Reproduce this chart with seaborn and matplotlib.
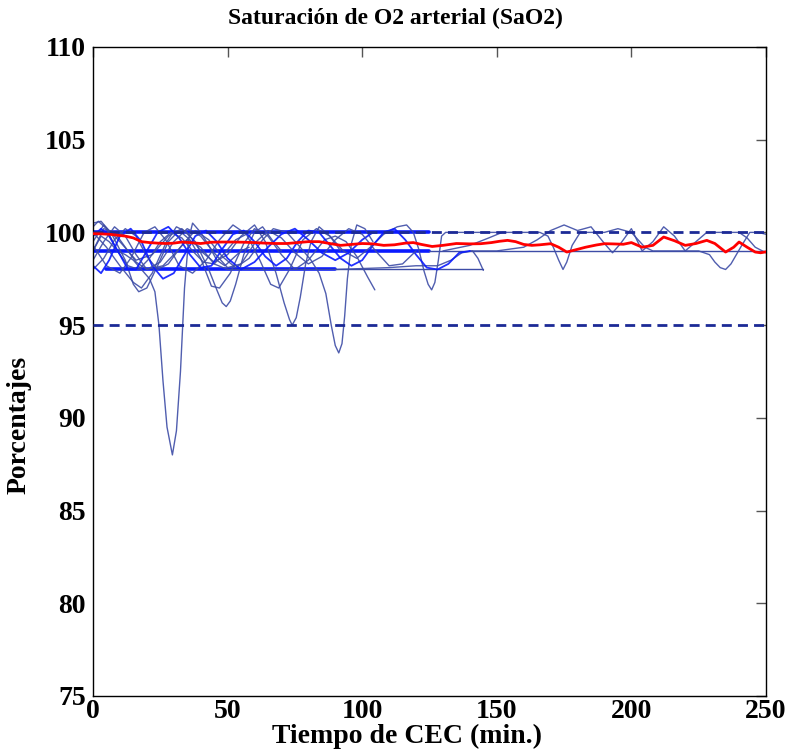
import matplotlib
matplotlib.use("Agg")
import matplotlib.pyplot as plt
import seaborn as sns
import numpy as np

# ---------------- data ----------------
title = "Saturación de O2 arterial (SaO2)"
xlabel = "Tiempo de CEC (min.)"
ylabel = "Porcentajes"
xticks = [0, 50, 100, 150, 200, 250]
yticks = [75, 80, 85, 90, 95, 100, 105, 110]
ref_levels = [95, 100]

# mean curve (red)
red_t = [0, 3, 6, 9, 12, 15, 18, 21, 24, 27, 30, 33, 36, 40, 44, 48, 52, 56, 60, 64, 68, 72,
         76, 80, 84, 88, 92, 96, 100, 104, 108, 112, 116, 119, 122, 126, 130, 135, 140, 144,
         148, 151, 154, 157, 160, 163, 166, 170, 173, 176, 179, 183, 187, 190, 193, 197, 200,
         204, 208, 212, 216, 220, 224, 228, 231, 235, 238, 240, 243, 246, 248, 250]
red_v = [99.93, 99.92, 99.9, 99.85, 99.8, 99.7, 99.5, 99.45, 99.42, 99.4, 99.42, 99.48, 99.45,
         99.4, 99.47, 99.48, 99.48, 99.47, 99.45, 99.42, 99.4, 99.4, 99.45, 99.5, 99.5, 99.4,
         99.3, 99.35, 99.4, 99.38, 99.3, 99.33, 99.42, 99.45, 99.35, 99.24, 99.3, 99.4, 99.38,
         99.39, 99.45, 99.52, 99.57, 99.5, 99.35, 99.3, 99.33, 99.39, 99.2, 98.94, 99.05, 99.2,
         99.32, 99.39, 99.38, 99.36, 99.45, 99.2, 99.3, 99.75, 99.55, 99.3, 99.4, 99.57, 99.4,
         98.94, 99.2, 99.48, 99.2, 98.94, 98.9, 98.95]

# individual patients (thin blue)
c1_t = [0, 3, 6, 9, 12, 15, 18, 21, 23, 24.5, 26, 27.5, 29.5, 31, 32.5, 34, 35.5, 37, 40, 43, 46, 49, 52, 55, 58]
c1_v = [99.0, 99.8, 99.5, 99.0, 98.8, 98.5, 98.0, 97.5, 96.8, 95.0, 92.0, 89.5, 88.0, 89.3, 92.5, 97.0, 99.6, 100.5, 100.0, 99.3, 98.5, 98.2, 98.6, 99.0, 99.2]

c2_t = [0, 4, 10, 16, 22, 28, 33, 38, 43, 46, 48, 49.5, 51, 53, 56, 60, 63, 67, 70]
c2_v = [99.5, 100.4, 99.5, 98.5, 98.8, 99.8, 100.2, 99.5, 98.0, 96.9, 96.2, 96.0, 96.3, 97.2, 98.8, 100.0, 100.3, 99.5, 99.0]

c3_t = [0, 5, 10, 15, 18, 22, 27, 31, 35, 40, 45, 50, 55, 60, 64, 68, 71, 73, 74, 75.5, 77, 79, 81, 84, 88, 92]
c3_v = [100.0, 99.2, 98.2, 97.3, 97.0, 97.8, 99.4, 100.3, 100.0, 99.0, 98.4, 98.8, 99.8, 100.4, 99.5, 97.8, 96.2, 95.3, 95.0, 95.4, 96.5, 98.3, 99.5, 100.3, 99.8, 99.0]

c4_t = [0, 4, 8, 12, 16, 20, 24, 28, 33, 38, 43, 48, 53, 58, 63, 67, 72, 77, 81, 84, 86.5, 88.5, 90, 91.3, 92.5, 93.5, 94.5, 96, 98, 101, 104]
c4_v = [98.0, 98.6, 99.6, 100.2, 99.8, 98.7, 98.0, 98.3, 99.3, 100.1, 99.6, 98.7, 98.1, 98.6, 99.6, 100.2, 100.0, 99.2, 98.5, 97.8, 96.7, 95.0, 93.9, 93.5, 94.0, 95.5, 97.5, 99.4, 100.4, 100.2, 99.5]

c5_t = [0, 3, 7, 12, 15, 17, 20, 24, 28, 32, 36, 40, 44, 47, 51, 56, 60, 65, 70, 75, 80, 86, 90, 94, 98, 102, 104.7]
c5_v = [100.5, 100.6, 99.9, 98.5, 97.2, 96.8, 97.0, 98.2, 99.5, 100.1, 99.6, 98.6, 97.1, 97.0, 97.8, 99.4, 100.2, 99.8, 98.8, 98.0, 98.5, 99.6, 99.8, 99.5, 98.7, 97.6, 96.9]

c6_t = [0, 5, 10, 14, 19, 23, 27, 32, 37, 42, 47, 52, 57, 62, 66, 69, 73, 78, 83, 88, 93, 98, 103, 108, 113, 116.5, 119, 121, 123, 124.5, 125.8, 127, 128.3, 129.5, 131, 140, 150]
c6_v = [99.3, 98.2, 97.8, 98.6, 100.0, 100.3, 99.6, 98.2, 97.8, 98.5, 99.6, 100.4, 99.9, 98.5, 97.2, 97.0, 98.0, 99.6, 100.2, 99.8, 99.0, 98.6, 99.2, 99.9, 100.3, 100.4, 100.0, 99.1, 97.9, 97.2, 96.9, 97.3, 98.5, 99.8, 100.0, 100.0, 100.0]

c7_t = [0, 4, 8, 12, 16, 20, 26, 30, 35, 40, 45, 50, 60, 70, 80, 90, 100, 110, 120, 128, 133, 137, 141, 143, 145]
c7_v = [99.0, 100.2, 100.0, 99.2, 98.4, 98.0, 98.2, 98.8, 99.6, 99.2, 98.3, 98.0, 98.0, 98.0, 98.0, 98.0, 98.05, 98.1, 98.2, 98.2, 98.5, 98.9, 99.0, 98.6, 97.95]

c8_t = [130, 140, 147, 152, 160, 166, 169, 171, 173, 174.6, 176, 178, 181, 190, 195, 200, 205, 208, 215, 225, 229, 231, 233, 235, 237, 239, 241, 244, 247, 250]
c8_v = [99.0, 99.3, 99.7, 100.0, 100.0, 100.0, 99.8, 99.2, 98.5, 98.0, 98.4, 99.3, 100.0, 100.0, 100.2, 100.0, 99.2, 99.0, 99.0, 99.0, 98.8, 98.4, 98.1, 98.0, 98.3, 98.8, 99.3, 100.0, 100.0, 99.9]

c9_t = [140, 150, 160, 165, 170, 175, 180, 185, 190, 193, 196, 200, 204, 208, 212, 216, 220, 224, 228, 232, 236, 240, 243, 246, 250]
c9_v = [99.0, 99.0, 99.2, 99.6, 100.1, 100.4, 100.1, 100.3, 99.4, 98.9, 99.4, 100.2, 99.0, 99.5, 100.3, 99.8, 99.0, 99.5, 100.0, 100.0, 100.0, 100.0, 99.7, 99.2, 98.9]

c10_t = [0, 3, 6, 10, 14, 18, 22, 26, 30, 34, 38, 42, 46, 50, 55, 60, 65, 70, 75, 80, 85, 90, 95, 100, 104]
c10_v = [98.2, 97.8, 98.5, 99.8, 100.2, 99.5, 98.2, 97.5, 97.8, 98.8, 99.8, 100.1, 99.5, 98.6, 98.0, 98.4, 99.2, 99.9, 100.2, 99.6, 98.9, 98.5, 98.9, 99.6, 100.0]

c11_t = [0, 2, 5, 9, 13, 17, 21, 25, 29, 33, 37, 41, 45, 49, 53, 57]
c11_v = [100.3, 100.6, 100.2, 99.0, 98.2, 98.0, 98.6, 99.5, 100.0, 99.7, 99.0, 98.4, 98.3, 98.9, 99.6, 99.9]

c12_t = [0, 3, 6, 10, 13, 16, 20, 24, 28, 32, 36, 40, 44, 48, 52, 56, 60, 64, 68, 72, 76, 80, 84, 88, 92, 96, 100, 104, 108, 112, 116, 120, 124, 128, 132, 136, 140]
c12_v = [99.8, 100.2, 99.8, 98.8, 98.0, 98.0, 99.0, 100.0, 100.3, 99.7, 98.8, 98.1, 98.2, 99.1, 99.9, 100.1, 99.5, 98.7, 98.2, 98.6, 99.5, 100.1, 100.0, 99.3, 98.6, 98.2, 98.5, 99.3, 100.0, 100.2, 99.6, 98.8, 98.1, 98.0, 98.3, 98.9, 99.0]

c13_t = [0, 4, 8, 12, 16, 20, 25, 30, 35, 40, 45, 50, 55, 60, 65, 70, 75, 80, 85, 90, 95, 100, 105, 110, 115, 120]
c13_v = [98.5, 99.5, 100.3, 99.8, 98.8, 98.0, 98.4, 99.5, 100.2, 99.8, 98.9, 98.1, 98.3, 99.4, 100.1, 99.7, 98.9, 98.3, 98.7, 99.6, 100.2, 99.9, 99.0, 98.2, 98.3, 99.0]

# plateau recordings (bright blue)
p100_t = [0, 125]
p100_v = [100, 100]
p99_t = [0, 125]
p99_v = [99, 99]
p99b_t = [125, 250]
p99b_v = [99, 99]
p98_t = [5, 90]
p98_v = [98, 98]
p98b_t = [90, 145]
p98b_v = [98, 98]

# ---------------- plotting ----------------
sns.set_style("white")
plt.rcParams["font.family"] = ["Liberation Serif", "DejaVu Serif"]
plt.rcParams["font.weight"] = "bold"
plt.rcParams["text.color"] = "black"
plt.rcParams["axes.labelcolor"] = "black"
plt.rcParams["xtick.labelcolor"] = "black"
plt.rcParams["ytick.labelcolor"] = "black"

fig = plt.figure(figsize=(7.9, 7.56), dpi=100)
ax = fig.add_axes([0.1177, 0.0794, 0.8519, 0.8585])

thin_color = "#3d4ca6"
bright = "#0a1aff"

for tt, vv, lw, col in [
    (p100_t, p100_v, 2.6, bright), (p99_t, p99_v, 2.6, bright), (p98_t, p98_v, 2.6, bright),
    (p99b_t, p99b_v, 1.0, thin_color), (p98b_t, p98b_v, 1.0, thin_color),
]:
    sns.lineplot(x=tt, y=vv, ax=ax, color=col, lw=lw, estimator=None, sort=False)

curves = [(c1_t, c1_v), (c2_t, c2_v), (c3_t, c3_v), (c4_t, c4_v), (c5_t, c5_v),
          (c6_t, c6_v), (c7_t, c7_v), (c8_t, c8_v), (c9_t, c9_v), (c10_t, c10_v),
          (c11_t, c11_v), (c12_t, c12_v), (c13_t, c13_v)]
for i, (tt, vv) in enumerate(curves):
    col = bright if i in (9, 11) else thin_color
    lw = 1.3 if i in (9, 11) else 1.0
    sns.lineplot(x=tt, y=vv, ax=ax, color=col, lw=lw, estimator=None, sort=False, alpha=0.9)

for lvl in ref_levels:
    ax.axhline(lvl, color="#1c2a96", lw=2.0, dashes=(3.6, 2.2), zorder=3)

sns.lineplot(x=red_t, y=red_v, ax=ax, color="#ff0000", lw=2.0, estimator=None, sort=False, zorder=4)

ax.set_xlim(0, 250)
ax.set_ylim(75, 110)
ax.set_xticks(xticks)
ax.set_yticks(yticks)
ax.set_xticklabels([str(v) for v in xticks], fontsize=20, fontweight="bold", color="black")
ax.set_yticklabels([str(v) for v in yticks], fontsize=20, fontweight="bold", color="black")
ax.tick_params(direction="in", length=7, width=1, top=True, right=True,
               color="#555555")
ax.tick_params(axis="x", pad=2)
ax.tick_params(axis="y", pad=5)
for sp in ax.spines.values():
    sp.set_color("black")
    sp.set_linewidth(1.0)

fig.text(395 / 790, 1 - 18 / 756, title, fontsize=17, fontweight="bold",
         ha="center", va="center", color="black")
ax.set_xlabel(xlabel, fontsize=20, fontweight="bold", color="black")
ax.xaxis.set_label_coords(0.4666, -0.043)
ax.set_ylabel(ylabel, fontsize=20, fontweight="bold", color="black")
ax.yaxis.set_label_coords(-0.092, 0.4176)

fig.savefig("out.png", dpi=100)
